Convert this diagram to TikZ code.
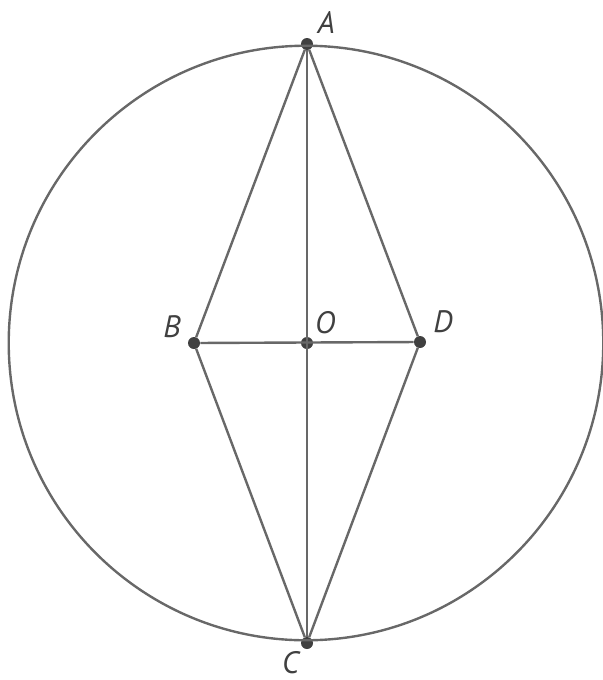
\documentclass[tikz,border=0pt]{standalone}
\usepackage{fontspec}
\setsansfont{PT Sans}
\usetikzlibrary{positioning}
\definecolor{linegray}{HTML}{686868}
\definecolor{dotgray}{HTML}{404040}

\begin{document}
\begin{tikzpicture}[x=0.025cm, y=-0.025cm, every node/.style={font=\sffamily\itshape\fontsize{22}{24}\selectfont, text=dotgray}, pt/.style={circle,fill=dotgray,inner sep=0pt,minimum size=3mm}, seg/.style={draw=linegray,line width=1.7pt}]
\useasboundingbox (0,0) rectangle (603,680);
\node[pt,label={[xshift=0.3mm,yshift=0.2mm]above right:A}] (A) at (307,44) {};
\node[pt,label={[xshift=-1mm,yshift=-1mm]above left:B}] (B) at (194,343) {};
\node[pt,label={[xshift=-0.3mm]above right:O}] (O) at (307,343) {};
\node[pt,label={[xshift=1mm]above right:D}] (D) at (420,342) {};
\node[pt,label={[inner sep=1pt,xshift=-0.5mm,yshift=-0.5mm]below left:C}] (C) at (307,643) {};
\draw[seg] (306,343) circle[radius=7.43cm];
\draw[seg] (A)--(B)--(C)--(D)--(A);\draw[seg] (A)--(C);\draw[seg] (B)--(D);
\end{tikzpicture}
\end{document}
